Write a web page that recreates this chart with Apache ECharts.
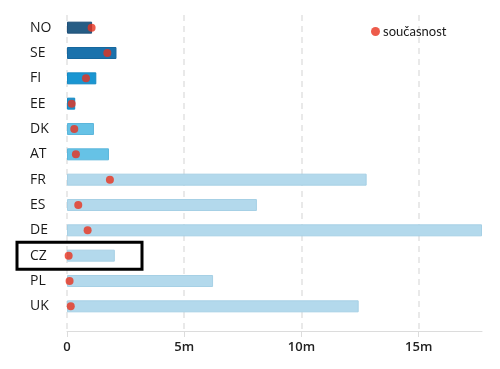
<!DOCTYPE html>
<html>
<head>
<meta charset="utf-8">
<script src="https://cdn.jsdelivr.net/npm/echarts@6/dist/echarts.min.js"></script>
<style>
html,body{margin:0;padding:0;background:#fff;}
#main{width:500px;height:369px;}
</style>
</head>
<body>
<div id="main"></div>
<script>
// ---- data ----
var categories = ['NO','SE','FI','EE','DK','AT','FR','ES','DE','CZ','PL','UK'];
var capacity = [1.07, 2.11, 1.25, 0.35, 1.15, 1.79, 12.78, 8.1, 17.7, 2.04, 6.23, 12.44];
var current = [1.05, 1.72, 0.81, 0.2, 0.31, 0.38, 1.83, 0.48, 0.88, 0.07, 0.11, 0.16];
var barColors = ['#265d85','#1b72ac','#1a96d2','#1a96d2','#66c2e6','#66c2e6',
                 '#b3d9ec','#b3d9ec','#b3d9ec','#b3d9ec','#b3d9ec','#b3d9ec'];
var borderColors = ['#1f5079','#17679d','#1689c2','#1689c2','#5cb6db','#5cb6db',
                    '#a6d0e5','#a6d0e5','#a6d0e5','#a6d0e5','#a6d0e5','#a6d0e5'];
var legendName = 'současnost';
var highlighted = 'CZ';
var axisMax = 17.7;

var chart = echarts.init(document.getElementById('main'), null, {renderer:'canvas'});
var font = '"Open Sans", "Noto Sans", sans-serif';

var option = {
  animation: false,
  backgroundColor: '#fff',
  textStyle: {fontFamily: font},
  legend: {
    data: [legendName],
    left: 366, top: 20,
    icon: 'circle', itemWidth: 9, itemHeight: 9, itemGap: 3,
    textStyle: {fontSize: 13, color: '#1a1a1a', fontFamily: 'Lato, "Open Sans", sans-serif', padding: [0, 0, 0, -2]}
  },
  grid: [
    {left: 67, right: 18, top: 15, bottom: 50},
    {left: 67, right: 18, top: 15, bottom: 38}
  ],
  xAxis: [
    {gridIndex: 0, type: 'value', min: 0, max: axisMax, show: false},
    {gridIndex: 1, type: 'value', min: 0, max: axisMax, interval: 5,
     axisLine: {show: true, lineStyle: {color: '#dcdcdc', width: 1}},
     axisTick: {show: true, length: 6, lineStyle: {color: '#dcdcdc'}},
     axisLabel: {show: true, margin: 10, fontSize: 13, fontWeight: 600, color: '#222',
       showMaxLabel: false,
       formatter: function (v) { return v === 0 ? '0' : v + 'm'; }},
     splitLine: {show: true, showMaxLine: false,
       lineStyle: {color: '#e2e2e2', type: [6, 5], width: 1.5}}
    }
  ],
  yAxis: [
    {gridIndex: 0, type: 'category', inverse: true, data: categories,
     axisLine: {show: false}, axisTick: {show: false},
     axisLabel: {align: 'left', margin: 37, fontSize: 14, color: '#1a1a1a'}},
    {gridIndex: 1, type: 'value', show: false}
  ],
  series: [
    {name: 'kapacita', type: 'bar', xAxisIndex: 0, yAxisIndex: 0, barWidth: 12,
     data: capacity.map(function (v, i) {
       return {value: v, itemStyle: {color: barColors[i], borderColor: borderColors[i], borderWidth: 1}};
     })},
    {name: legendName, type: 'scatter', xAxisIndex: 0, yAxisIndex: 0,
     symbol: 'circle', symbolSize: 8, itemStyle: {color: '#e8321e'}, z: 5,
     data: current}
  ]
};
chart.setOption(option);

var cy = chart.convertToPixel({yAxisIndex: 0}, highlighted);
chart.setOption({
  graphic: [{
    type: 'rect', z: 100,
    shape: {x: 17, y: cy - 13.5, width: 125, height: 27},
    style: {fill: null, stroke: '#000', lineWidth: 3}
  }]
});
</script>
</body>
</html>
